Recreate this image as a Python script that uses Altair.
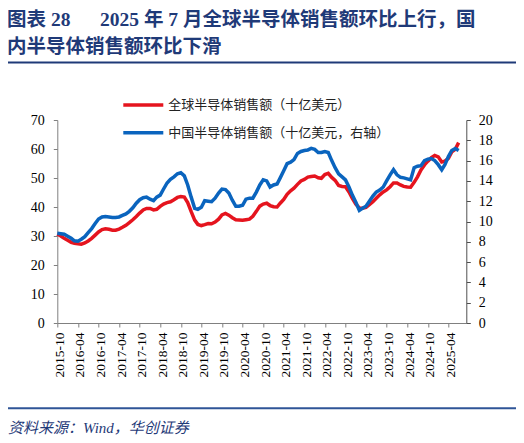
import altair as alt
import pandas as pd

# ---------------- data ----------------
months = pd.date_range("2015-10-01", "2025-07-01", freq="MS")

global_sales = [
    30.7, 30.0, 29.2, 28.5, 27.8, 27.5, 27.3, 27.2, 27.6, 28.3, 29.2, 30.3,
    31.4, 32.2, 32.5, 32.3, 32.0, 32.0, 32.4, 33.0, 33.7, 34.6, 35.6, 36.7,
    37.9, 39.0, 39.5, 39.5, 39.0, 39.2, 40.2, 41.0, 41.5, 41.8, 42.5, 43.3,
    43.6, 43.4, 41.5, 38.4, 35.5, 34.0, 33.6, 33.9, 34.3, 34.2, 34.8, 35.8,
    37.3, 37.8, 37.2, 36.3, 35.6, 35.5, 35.4, 35.6, 35.8, 36.8, 38.5, 40.3,
    41.0, 41.3, 40.5, 40.1, 40.0, 41.3, 42.6, 44.4, 45.6, 46.5, 47.8, 49.0,
    49.5, 50.3, 50.5, 50.7, 50.1, 49.9, 51.2, 51.6, 50.2, 49.2, 47.4, 47.1,
    47.0, 45.2, 43.0, 41.0, 39.7, 39.6, 39.9, 40.8, 41.8, 43.0, 44.2, 45.2,
    45.9, 47.0, 48.3, 48.3, 47.6, 47.1, 46.9, 46.8, 48.5, 50.4, 52.8, 54.5,
    55.8, 57.0, 57.8, 57.3, 55.5, 55.8, 56.8, 59.0, 59.9, 62.2,
]

china_sales = [
    8.85, 8.80, 8.75, 8.55, 8.35, 8.10, 8.05, 8.25, 8.50, 8.90, 9.30, 9.80,
    10.25, 10.45, 10.50, 10.45, 10.40, 10.40, 10.45, 10.60, 10.75, 11.00, 11.35, 11.80,
    12.15, 12.35, 12.40, 12.20, 12.05, 12.40, 12.60, 13.20, 13.80, 14.15, 14.40, 14.70,
    14.80, 14.50, 13.60, 12.40, 11.30, 11.20, 11.40, 12.05, 12.00, 11.95, 12.30, 12.80,
    13.20, 13.15, 12.80, 12.10, 11.50, 11.50, 11.60, 12.20, 12.30, 12.30, 12.90, 13.60,
    14.10, 14.00, 13.40, 13.60, 13.70, 14.30, 15.00, 15.70, 15.85, 16.10, 16.70, 16.90,
    17.00, 17.05, 17.20, 17.10, 16.80, 16.80, 16.90, 16.80, 16.00, 15.30, 14.70, 14.40,
    14.10, 13.40, 12.60, 11.90, 11.10, 11.30, 11.50, 12.00, 12.50, 12.90, 13.10, 13.40,
    14.00, 14.60, 15.10, 14.60, 14.35, 14.30, 14.20, 14.10, 15.30, 15.45, 15.50, 16.00,
    16.15, 16.20, 16.00, 15.60, 15.10, 15.60, 16.40, 17.00, 17.20, 17.00,
]

tick_labels = [
    "2015-10", "2016-04", "2016-10", "2017-04", "2017-10", "2018-04", "2018-10",
    "2019-04", "2019-10", "2020-04", "2020-10", "2021-04", "2021-10", "2022-04",
    "2022-10", "2023-04", "2023-10", "2024-04", "2024-10", "2025-04",
]
left_ticks = [0, 10, 20, 30, 40, 50, 60, 70]
right_ticks = [0, 2, 4, 6, 8, 10, 12, 14, 16, 18, 20]

series_names = ["全球半导体销售额（十亿美元）", "中国半导体销售额（十亿美元，右轴）"]
title_label = "图表 28"
title_lines = [
    "2025 年 7 月全球半导体销售额环比上行，国",
    "内半导体销售额环比下滑",
]
source_text = "资料来源：Wind，华创证券"

df = pd.DataFrame({"date": months, "global": global_sales, "china": china_sales})

RED = "#E5141E"
BLUE = "#0A64BE"
NAVY = "#1F3A78"
SERIF = "Liberation Serif, Noto Sans CJK SC"
CJK = "Noto Sans CJK SC"

W, H = 409, 203
PL, PT = 49.3, 112

x_ticks = [alt.DateTime(year=int(s[:4]), month=int(s[5:]), date=1) for s in tick_labels]
x_enc = alt.X(
    "date:T",
    scale=alt.Scale(domain=[alt.DateTime(year=2015, month=10, date=1),
                            alt.DateTime(year=2025, month=9, date=7)]),
    axis=alt.Axis(values=x_ticks, format="%Y-%m", labelAngle=-90, title=None,
                  grid=False, labelFont="Liberation Serif", labelFontSize=13.5,
                  labelColor="#000000", labelPadding=5, tickSize=4, labelOffset=2,
                  domainColor="#808080", tickColor="#808080", labelOverlap=False,
                  labelFlush=False),
)

line_global = alt.Chart(df).mark_line(color=RED, strokeWidth=3.5).encode(
    x=x_enc,
    y=alt.Y("global:Q", scale=alt.Scale(domain=[0, 70], nice=False),
            axis=alt.Axis(values=left_ticks, title=None, grid=False, orient="left",
                          labelFont="Liberation Serif", labelFontSize=14,
                          labelColor="#000000", labelPadding=9, tickSize=4,
                          domainColor="#808080", tickColor="#808080")),
)

line_china = alt.Chart(df).mark_line(color=BLUE, strokeWidth=3.5).encode(
    x=x_enc,
    y=alt.Y("china:Q", scale=alt.Scale(domain=[0, 20], nice=False),
            axis=alt.Axis(values=right_ticks, title=None, grid=False, orient="right",
                          labelFont="Liberation Serif", labelFontSize=14,
                          labelColor="#000000", labelPadding=8, tickSize=4,
                          domainColor="#505050", tickColor="#505050")),
)

one = pd.DataFrame({"k": [0]})

# legend (manual)
leg_red_line = alt.Chart(one).mark_rule(color=RED, strokeWidth=3.5).encode(
    x=alt.value(66), x2=alt.value(106), y=alt.value(-15))
leg_red_text = alt.Chart(pd.DataFrame({"t": [series_names[0]]})).mark_text(
    align="left", baseline="middle", font=CJK, fontSize=13, color="#222222").encode(
    text="t:N", x=alt.value(111), y=alt.value(-15))
leg_blue_line = alt.Chart(one).mark_rule(color=BLUE, strokeWidth=3.5).encode(
    x=alt.value(66), x2=alt.value(106), y=alt.value(12.7))
leg_blue_text = alt.Chart(pd.DataFrame({"t": [series_names[1]]})).mark_text(
    align="left", baseline="middle", font=CJK, fontSize=13, color="#222222").encode(
    text="t:N", x=alt.value(111), y=alt.value(12.7))

# title
title_style = dict(align="left", baseline="middle", font=SERIF, fontSize=19.5,
                   fontWeight="bold", color=NAVY)
title0 = alt.Chart(pd.DataFrame({"t": [title_label]})).mark_text(**title_style).encode(
    text="t:N", x=alt.value(-50.3), y=alt.value(-100))
title1 = alt.Chart(pd.DataFrame({"t": [title_lines[0]]})).mark_text(**title_style).encode(
    text="t:N", x=alt.value(42.7), y=alt.value(-100))
title2 = alt.Chart(pd.DataFrame({"t": [title_lines[1]]})).mark_text(**title_style).encode(
    text="t:N", x=alt.value(-50.3), y=alt.value(-73))
top_rule = alt.Chart(one).mark_rule(color=NAVY, strokeWidth=2).encode(
    x=alt.value(-51.3), x2=alt.value(459.7), y=alt.value(-57.5))
bottom_rule = alt.Chart(one).mark_rule(color="#2F5597", strokeWidth=2).encode(
    x=alt.value(-51.3), x2=alt.value(459.7), y=alt.value(288.3))
source = alt.Chart(pd.DataFrame({"t": [source_text]})).mark_text(
    align="left", baseline="middle", font=SERIF, fontSize=15, fontStyle="italic",
    color=NAVY).encode(text="t:N", x=alt.value(-49.3), y=alt.value(308))

chart = alt.layer(
    line_global, line_china,
    leg_red_line, leg_red_text, leg_blue_line, leg_blue_text,
    title0, title1, title2, top_rule, bottom_rule, source,
).resolve_scale(y="independent").properties(
    width=W, height=H,
    padding={"left": PL, "top": PT, "right": 508 - PL - W, "bottom": 427 - PT - H},
    autosize=alt.AutoSizeParams(type="none"),
    background="#FFFFFF",
).configure_view(stroke=None)

chart.save("out.html", embed_options={"renderer": "svg", "actions": False})
